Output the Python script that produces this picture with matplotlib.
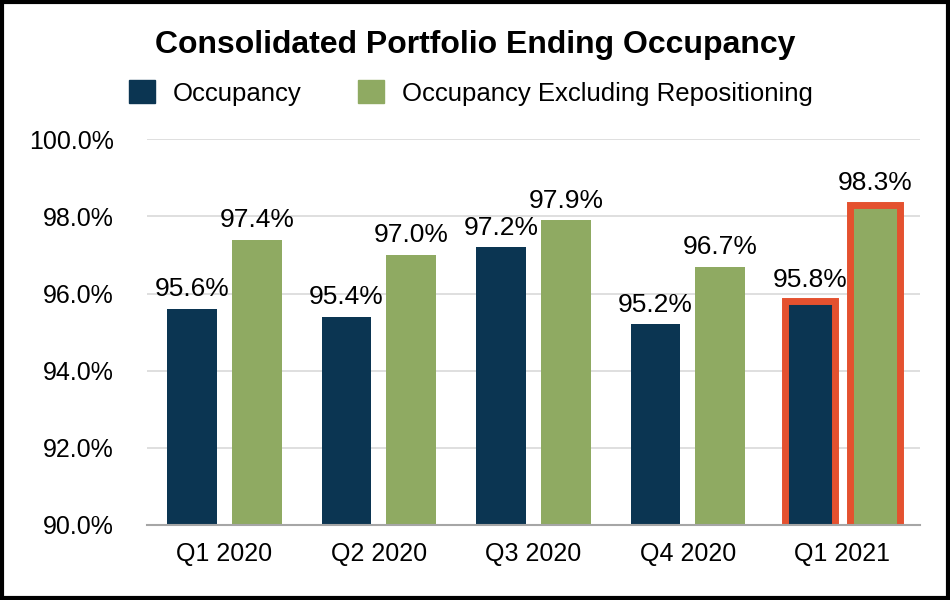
import matplotlib.pyplot as plt
import matplotlib.patches as mpatches
import numpy as np

plt.rcParams['font.family'] = ['Liberation Sans', 'DejaVu Sans']

# dane
kwartaly = ['Q1 2020', 'Q2 2020', 'Q3 2020', 'Q4 2020', 'Q1 2021']
occupancy = [95.6, 95.4, 97.2, 95.2, 95.8]
occupancy_ex = [97.4, 97.0, 97.9, 96.7, 98.3]
wyrozniony = 4  # ostatni kwartal w ramce

granat = '#0B3552'
zielony = '#8FAA62'
czerwony = '#E4512F'

fig = plt.figure(figsize=(9.5, 6), dpi=100)
ax = fig.add_axes([0.155, 0.125, 0.813, 0.643])

x = np.arange(len(kwartaly))
w = 0.323
off = 0.21

b1 = ax.bar(x - off, occupancy, w, color=granat, zorder=3)
b2 = ax.bar(x + off, occupancy_ex, w, color=zielony, zorder=3)

for b in (b1[wyrozniony], b2[wyrozniony]):
    b.set_edgecolor(czerwony)
    b.set_linewidth(5)

for bars, vals in ((b1, occupancy), (b2, occupancy_ex)):
    for i, (b, v) in enumerate(zip(bars, vals)):
        dy = 0.2 if i != wyrozniony else 0.25
        ax.text(b.get_x() + b.get_width() / 2, v + dy, f'{v:.1f}%',
                ha='center', va='bottom', fontsize=19, zorder=4)

ax.set_xlim(-0.5, 4.5)
ax.set_ylim(90, 100)
ax.set_yticks(np.arange(90, 100.1, 2))
ax.set_yticklabels([f'{t:.1f}%' for t in np.arange(90, 100.1, 2)])
ax.set_xticks(x)
ax.set_xticklabels(kwartaly)
ax.tick_params(axis='both', length=0, labelsize=18)
ax.tick_params(axis='y', pad=24)
ax.tick_params(axis='x', pad=12)

ax.yaxis.grid(True, color='#D9D9D9', linewidth=1.2, zorder=0)
ax.set_axisbelow(True)
for s in ('top', 'right', 'left'):
    ax.spines[s].set_visible(False)
ax.spines['bottom'].set_color('#A6A6A6')
ax.spines['bottom'].set_linewidth(1.5)
ax.spines['bottom'].set_zorder(5)

fig.text(0.5, 0.925, 'Consolidated Portfolio Ending Occupancy',
         ha='center', va='center', fontsize=23, fontweight='bold')

uchwyty = [mpatches.Patch(color=granat, label='Occupancy'),
           mpatches.Patch(color=zielony, label='Occupancy Excluding Repositioning')]
fig.legend(handles=uchwyty, loc='center', bbox_to_anchor=(0.496, 0.845), ncol=2,
           frameon=False, fontsize=18.5, handlelength=1.0, handleheight=1.0,
           handletextpad=0.7, columnspacing=2.2)

# ramka wokol calego obrazka
fig.patches.append(mpatches.Rectangle((0.002, 0.003), 0.996, 0.994, transform=fig.transFigure,
                                      fill=False, edgecolor='black', linewidth=3))

fig.savefig('out.png', dpi=100)
